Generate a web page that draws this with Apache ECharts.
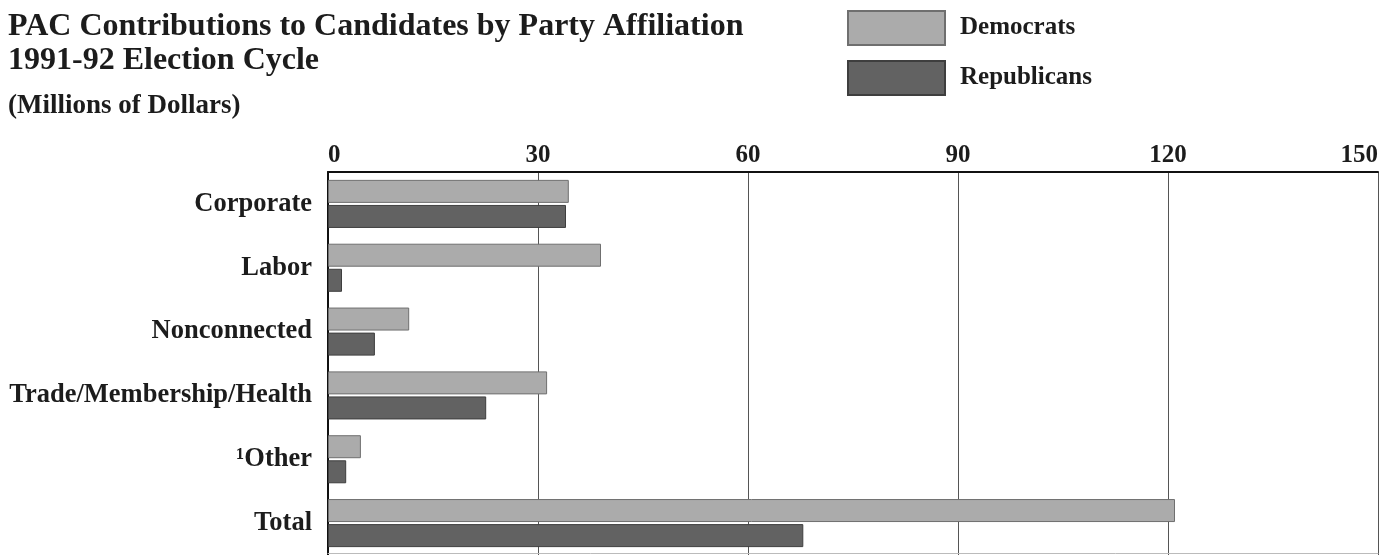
<!DOCTYPE html>
<html>
<head>
<meta charset="utf-8">
<script src="https://cdn.jsdelivr.net/npm/echarts@6/dist/echarts.min.js"></script>
<style>
  html, body { margin: 0; padding: 0; background: #fff; }
  #chart { width: 1384px; height: 555px; }
</style>
</head>
<body>
<div id="chart"></div>
<script>
// PAC contributions by committee type, millions of dollars
const categories = ['Corporate', 'Labor', 'Nonconnected', 'Trade/Membership/Health', '\u00b9Other', 'Total'];
const democrats = [34.4, 39.0, 11.6, 31.3, 4.7, 121.0];
const republicans = [34.0, 2.0, 6.7, 22.6, 2.6, 67.9];
const xTicks = [0, 30, 60, 90, 120, 150];

const serif = '"Liberation Serif", "DejaVu Serif", serif';
const ink = '#1c1c1c';

const chart = echarts.init(document.getElementById('chart'), null, { renderer: 'canvas' });

chart.setOption({
  animation: false,
  backgroundColor: '#ffffff',
  title: [
    {
      text: 'PAC Contributions to Candidates by Party Affiliation\n1991-92 Election Cycle',
      left: 3, top: 5,
      textStyle: { fontFamily: serif, fontWeight: 'bold', fontSize: 32, lineHeight: 34, color: ink }
    },
    {
      text: '(Millions of Dollars)',
      left: 3, top: 88,
      textStyle: { fontFamily: serif, fontWeight: 'bold', fontSize: 27, color: ink }
    }
  ],
  legend: {
    orient: 'vertical',
    left: 842, top: 5,
    itemWidth: 97, itemHeight: 34, itemGap: 14,
    icon: 'rect',
    data: ['Democrats', 'Republicans'],
    textStyle: { fontFamily: serif, fontWeight: 'bold', fontSize: 25, color: ink, padding: [0, 0, 0, 10] }
  },
  grid: [
    { left: 328, right: 6, top: 172, height: 384 },
    { left: 328, right: 6, top: 172, height: 381 }
  ],
  xAxis: [
    {
      gridIndex: 0, type: 'value', position: 'top',
      min: xTicks[0], max: xTicks[xTicks.length - 1], interval: xTicks[1] - xTicks[0],
      axisLine: { show: true, lineStyle: { color: '#111', width: 2 } },
      axisTick: { show: false },
      splitLine: { show: true, lineStyle: { color: '#555', width: 1 } },
      axisLabel: {
        margin: 4, fontFamily: serif, fontWeight: 'bold', fontSize: 25, color: ink,
        alignMinLabel: 'left', alignMaxLabel: 'right'
      }
    },
    {
      gridIndex: 1, type: 'value', position: 'bottom',
      min: xTicks[0], max: xTicks[xTicks.length - 1],
      axisLine: { show: true, lineStyle: { color: '#bbb', width: 1 } },
      axisTick: { show: false }, axisLabel: { show: false }, splitLine: { show: false }
    }
  ],
  yAxis: [
    {
      gridIndex: 0, type: 'category', inverse: true, data: categories,
      axisLine: { show: true, lineStyle: { color: '#111', width: 2 } },
      axisTick: { show: false },
      axisLabel: { margin: 16, fontFamily: serif, fontWeight: 'bold', fontSize: 26.5, color: ink }
    },
    {
      gridIndex: 1, type: 'category', inverse: true, data: categories,
      axisLine: { show: false }, axisTick: { show: false }, axisLabel: { show: false }
    }
  ],
  series: [
    {
      name: 'Democrats', type: 'bar', xAxisIndex: 0, yAxisIndex: 0,
      data: democrats,
      barWidth: 23, barGap: '9%',
      itemStyle: { color: '#ababab', borderColor: '#6f6f6f', borderWidth: 1 }
    },
    {
      name: 'Republicans', type: 'bar', xAxisIndex: 0, yAxisIndex: 0,
      data: republicans,
      barWidth: 23, barGap: '9%',
      itemStyle: { color: '#626262', borderColor: '#3e3e3e', borderWidth: 1 }
    }
  ]
});
</script>
</body>
</html>
